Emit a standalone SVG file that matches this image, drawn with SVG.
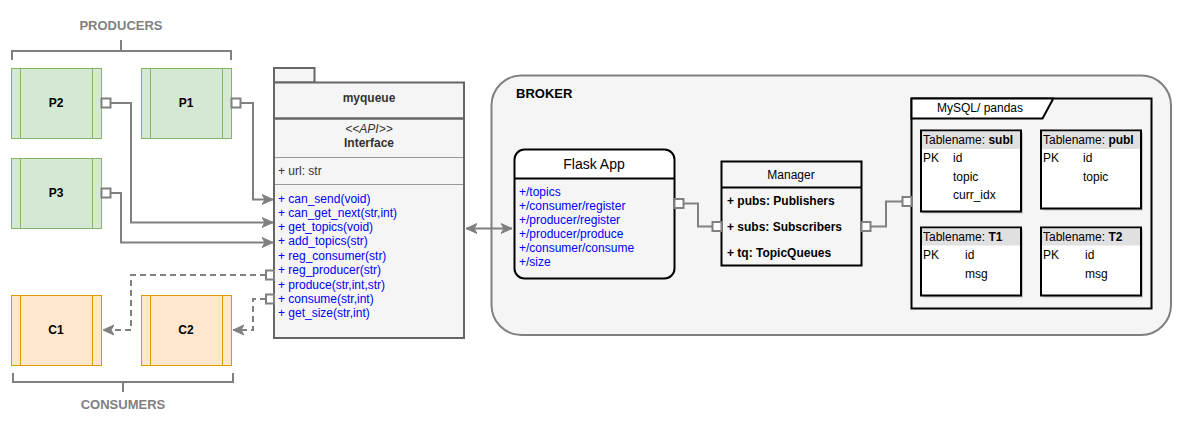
<svg xmlns="http://www.w3.org/2000/svg" width="1182" height="430" viewBox="0 0 1182 430">
<defs>
<marker id="arr" markerUnits="userSpaceOnUse" markerWidth="12" markerHeight="12" viewBox="0 0 12 12" refX="11" refY="6" orient="auto-start-reverse">
<path d="M0,1 L11,6 L0,11 L3,6 Z" fill="#808080" stroke="#808080" stroke-width="1"/>
</marker>
<style>
text{font-family:"Liberation Sans",Arial,sans-serif;font-size:12px;}
.b{font-weight:bold;}
.lbl{fill:#808080;font-weight:bold;font-size:13px;}
.big{font-size:14px;}
.mid{font-size:13px;}
.brk{fill:none;stroke:#808080;stroke-width:2;}
.prod{fill:#d5e8d4;stroke:#82b366;stroke-width:1;}
.cons{fill:#ffe6cc;stroke:#d79b00;stroke-width:1;}
.con{fill:none;stroke:#808080;stroke-width:2;}
.dash{stroke-dasharray:6 4;}
.term{fill:#ffffff;stroke:#808080;stroke-width:2;}
.blue{fill:#0000ff;}
.grey{fill:#333333;}
.tbl{fill:#ffffff;stroke:#000000;stroke-width:2;}
.th{fill:#e0e0e0;}
</style>
</defs>

<g id="producers-label">
<text x="121" y="30" text-anchor="middle" class="lbl">PRODUCERS</text>
<path class="brk" d="M12,60 V51 H231 V60 M121,51 V40"/>
</g>
<g id="consumers-label">
<text x="123" y="409" text-anchor="middle" class="lbl">CONSUMERS</text>
<path class="brk" d="M13,373 V382 H233 V373 M123,382 V392"/>
</g>

<g id="P2">
<rect class="prod" x="11.5" y="68.5" width="90" height="70"/>
<path class="prod" d="M20.5,68.5 V138.5 M92.5,68.5 V138.5"/>
<text x="56" y="107" text-anchor="middle" class="b">P2</text>
</g>
<g id="P1">
<rect class="prod" x="141.5" y="68.5" width="90" height="70"/>
<path class="prod" d="M150.5,68.5 V138.5 M222.5,68.5 V138.5"/>
<text x="186" y="107" text-anchor="middle" class="b">P1</text>
</g>
<g id="P3">
<rect class="prod" x="11.5" y="158.5" width="90" height="70"/>
<path class="prod" d="M20.5,158.5 V228.5 M92.5,158.5 V228.5"/>
<text x="56" y="197" text-anchor="middle" class="b">P3</text>
</g>
<g id="C1">
<rect class="cons" x="11.5" y="295.5" width="90" height="70"/>
<path class="cons" d="M20.5,295.5 V365.5 M92.5,295.5 V365.5"/>
<text x="56" y="334" text-anchor="middle" class="b">C1</text>
</g>
<g id="C2">
<rect class="cons" x="141.5" y="295.5" width="90" height="70"/>
<path class="cons" d="M150.5,295.5 V365.5 M222.5,295.5 V365.5"/>
<text x="186" y="334" text-anchor="middle" class="b">C2</text>
</g>

<g id="myqueue">
<rect x="274" y="68" width="40.5" height="14.5" fill="#f5f5f5" stroke="#666666" stroke-width="2"/>
<rect x="274" y="82.5" width="190" height="255.5" fill="#f5f5f5" stroke="#666666" stroke-width="2"/>
<line x1="274" y1="118.5" x2="464" y2="118.5" stroke="#666666" stroke-width="2.5"/>
<text x="369" y="102" text-anchor="middle" class="b grey">myqueue</text>
<text x="369" y="133" text-anchor="middle" class="grey" font-style="italic">&lt;&lt;API&gt;&gt;</text>
<text x="369" y="147" text-anchor="middle" class="b grey">Interface</text>
<line x1="275" y1="157.5" x2="463" y2="157.5" stroke="#999999" stroke-width="1"/>
<text x="278" y="175" class="grey">+ url: str</text>
<line x1="275" y1="184.5" x2="463" y2="184.5" stroke="#999999" stroke-width="1"/>
<text x="278" y="202.5" class="blue">+ can_send(void)</text>
<text x="278" y="217" class="blue">+ can_get_next(str,int)</text>
<text x="278" y="231.3" class="blue">+ get_topics(void)</text>
<text x="278" y="245.3" class="blue">+ add_topics(str)</text>
<text x="278" y="260" class="blue">+ reg_consumer(str)</text>
<text x="278" y="274.3" class="blue">+ reg_producer(str)</text>
<text x="278" y="289" class="blue">+ produce(str,int,str)</text>
<text x="278" y="303" class="blue">+ consume(str,int)</text>
<text x="278" y="317.3" class="blue">+ get_size(str,int)</text>
</g>

<g id="broker">
<rect x="491.5" y="75.5" width="679.5" height="259.5" rx="30" ry="30" fill="#f5f5f5" stroke="#808080" stroke-width="2"/>
<text x="516" y="98" class="b mid" fill="#000000">BROKER</text>
</g>

<g id="flask-app">
<path d="M514.5,178.5 V159.5 A10,10 0 0 1 524.5,149.5 H664.5 A10,10 0 0 1 674.5,159.5 V178.5 Z" fill="#ffffff"/>
<rect x="514.5" y="149.5" width="160" height="129" rx="10" ry="10" fill="none" stroke="#000000" stroke-width="2"/>
<line x1="514.5" y1="178.5" x2="674.5" y2="178.5" stroke="#000000" stroke-width="2"/>
<text x="594" y="169" text-anchor="middle" class="big" fill="#000000">Flask App</text>
<text x="519" y="196" class="blue">+/topics</text>
<text x="519" y="210" class="blue">+/consumer/register</text>
<text x="519" y="224" class="blue">+/producer/register</text>
<text x="519" y="238" class="blue">+/producer/produce</text>
<text x="519" y="252" class="blue">+/consumer/consume</text>
<text x="519" y="266" class="blue">+/size</text>
</g>

<g id="manager">
<rect x="721.5" y="161.5" width="140" height="104" fill="#f5f5f5" stroke="#000000" stroke-width="2"/>
<line x1="721.5" y1="187.5" x2="861.5" y2="187.5" stroke="#000000" stroke-width="2"/>
<text x="791" y="179" text-anchor="middle" fill="#000000">Manager</text>
<text x="727" y="205" class="b">+ pubs: Publishers</text>
<text x="727" y="231" class="b">+ subs: Subscribers</text>
<text x="727" y="257" class="b">+ tq: TopicQueues</text>
</g>

<g id="mysql-pandas">
<rect x="911.5" y="98.5" width="240" height="210" fill="#f5f5f5" stroke="#000000" stroke-width="2"/>
<path d="M911.5,98.5 H1052.5 V100 L1042.5,118.5 H911.5 Z" fill="#ffffff" stroke="#000000" stroke-width="2"/>
<text x="980" y="112" text-anchor="middle">MySQL/ pandas</text>
</g>

<g id="table-subl">
<rect x="923" y="132.5" width="100" height="81" fill="#999999" opacity="0.5"/>
<rect class="tbl" x="921" y="130.5" width="100" height="81"/>
<rect class="th" x="922" y="131.5" width="98" height="17.5"/>
<text x="923" y="144">Tablename: <tspan class="b">subl</tspan></text>
<text x="923" y="162">PK</text>
<text x="953" y="162">id</text>
<text x="953" y="181">topic</text>
<text x="953" y="199">curr_idx</text>
</g>
<g id="table-publ">
<rect x="1043" y="132.5" width="100" height="78" fill="#999999" opacity="0.5"/>
<rect class="tbl" x="1041" y="130.5" width="100" height="78"/>
<rect class="th" x="1042" y="131.5" width="98" height="17.5"/>
<text x="1043" y="144">Tablename: <tspan class="b">publ</tspan></text>
<text x="1043" y="162">PK</text>
<text x="1083" y="162">id</text>
<text x="1083" y="181">topic</text>
</g>
<g id="table-T1">
<rect x="923" y="229.5" width="100" height="68" fill="#999999" opacity="0.5"/>
<rect class="tbl" x="921" y="227.5" width="100" height="68"/>
<rect class="th" x="922" y="228.5" width="98" height="17"/>
<text x="923" y="241">Tablename: <tspan class="b">T1</tspan></text>
<text x="923" y="258.5">PK</text>
<text x="965" y="258.5">id</text>
<text x="965" y="277.5">msg</text>
</g>
<g id="table-T2">
<rect x="1043" y="229.5" width="100" height="68" fill="#999999" opacity="0.5"/>
<rect class="tbl" x="1041" y="227.5" width="100" height="68"/>
<rect class="th" x="1042" y="228.5" width="98" height="17"/>
<text x="1043" y="241">Tablename: <tspan class="b">T2</tspan></text>
<text x="1043" y="258.5">PK</text>
<text x="1085" y="258.5">id</text>
<text x="1085" y="277.5">msg</text>
</g>

<g id="connectors">
<path class="con" d="M240,103 H253 V199.5 H273" marker-end="url(#arr)"/>
<path class="con" d="M110,103 H131 V222.5 H273" marker-end="url(#arr)"/>
<path class="con" d="M110,193 H121 V242.5 H273" marker-end="url(#arr)"/>
<path class="con dash" d="M266,275 H131 V330 H103" marker-end="url(#arr)"/>
<path class="con dash" d="M266,299 H253 V330 H233" marker-end="url(#arr)"/>
<path class="con" d="M466,228.5 H512" marker-start="url(#arr)" marker-end="url(#arr)"/>
<path class="con" d="M683,203.5 H698 V226.5 H712"/>
<path class="con" d="M870,226.5 H886 V201.5 H902"/>
<rect class="term" x="101.5" y="98.5" width="9" height="9"/>
<rect class="term" x="231.5" y="98.5" width="9" height="9"/>
<rect class="term" x="101.5" y="188.5" width="9" height="9"/>
<rect class="term" x="266" y="270.5" width="8" height="9"/>
<rect class="term" x="266" y="294.5" width="8" height="9"/>
<rect class="term" x="674.5" y="199" width="9" height="9"/>
<rect class="term" x="712.5" y="222" width="9" height="9"/>
<rect class="term" x="861.5" y="222" width="9" height="9"/>
<rect class="term" x="902.5" y="197" width="9" height="9"/>
</g>
</svg>
